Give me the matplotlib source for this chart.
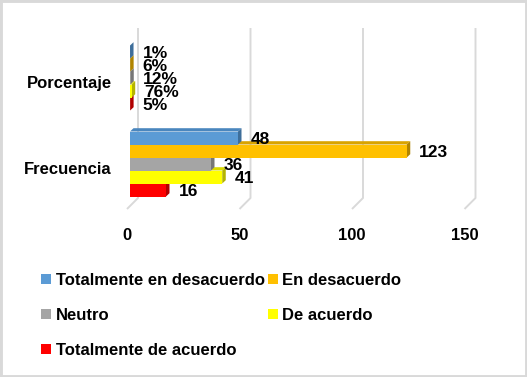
import matplotlib
matplotlib.use("Agg")
import matplotlib.pyplot as plt
from matplotlib.patches import Polygon, Rectangle
from matplotlib.transforms import ScaledTranslation
import numpy as np

categories = ["Frecuencia", "Porcentaje"]
series = ["Totalmente en desacuerdo", "En desacuerdo", "Neutro", "De acuerdo", "Totalmente de acuerdo"]
frecuencia = [48, 123, 36, 41, 16]
porcentaje = [0.01, 0.06, 0.12, 0.76, 0.05]
xticks = [0, 50, 100, 150]

face_colors = ["#5B9BD5", "#FFC000", "#A5A5A5", "#FFFF00", "#FF0000"]
top_colors = ["#4A86BE", "#D9A300", "#8C8C8C", "#D9D900", "#D90000"]
side_colors = ["#3E6E9A", "#B08400", "#767676", "#B3B300", "#B00000"]

FONT = "Liberation Sans"
FS = 12
W, H = 527, 377
fig = plt.figure(figsize=(W / 100, H / 100), dpi=100)
fig.patch.set_facecolor("white")

# axes in pixel coordinates
L, R, T, B = 120, 500, 20, 215
ax = fig.add_axes([L / W, 1 - B / H, (R - L) / W, (B - T) / H])
px_per_x = 2.25
px_per_y = 86.0
ax.set_xlim((L - 130) / px_per_x, (R - 130) / px_per_x)
ax.set_ylim((164 - B) / px_per_y, (164 - T) / px_per_y)
for s in ax.spines.values():
    s.set_visible(False)

# 3D-like gridlines (back wall + floor slant)
back_off = 8 / px_per_x
front_off = -3 / px_per_x
y_top = (164 - 28) / px_per_y
y_back = (164 - 198) / px_per_y
y_front = (164 - 209) / px_per_y
for v in xticks:
    ax.plot([v + back_off, v + back_off, v + front_off],
            [y_top, y_back, y_front], color="#D9D9D9", lw=1.4,
            solid_capstyle="butt", zorder=1)

bh = 65 / 86 / 5
dx = 3.5 / px_per_x
dy = 3.3 / px_per_y

data = {"Frecuencia": frecuencia, "Porcentaje": porcentaje}
for ci, cat in enumerate(categories):
    vals = data[cat]
    for i in reversed(range(len(series))):
        v = vals[i]
        yc = ci + (2 - i) * bh
        yb, yt = yc - bh / 2, yc + bh / 2
        ax.add_patch(Polygon([(0, yt), (v, yt), (v + dx, yt + dy), (dx, yt + dy)],
                             closed=True, fc=top_colors[i], ec="none", zorder=2))
        ax.add_patch(Polygon([(v, yb), (v + dx, yb + dy), (v + dx, yt + dy), (v, yt)],
                             closed=True, fc=side_colors[i], ec="none", zorder=2))
        ax.add_patch(Rectangle((0, yb), v, bh, fc=face_colors[i], ec="none", zorder=3))
        label = f"{v:.0%}" if cat == "Porcentaje" else f"{v:d}"
        ax.text(v + 5.5, yc - 0.012, label, ha="left", va="center",
                fontsize=12.5, fontweight="bold", family=FONT, zorder=5)

ax.set_xticks([v + front_off for v in xticks])
ax.set_xticklabels([str(v) for v in xticks], fontsize=FS, fontweight="bold", family=FONT)
ax.set_yticks(range(len(categories)))
ax.set_yticklabels(categories, fontsize=FS, fontweight="bold", family=FONT)
ax.tick_params(axis="both", length=0)
ax.tick_params(axis="x", pad=9)
ax.tick_params(axis="y", pad=6)
off = ScaledTranslation(0, -4 / 100, fig.dpi_scale_trans)
for lbl in ax.get_yticklabels():
    lbl.set_transform(lbl.get_transform() + off)

# legend (row-major order like the reference)
handles = [Rectangle((0, 0), 1, 1, fc=c, ec="none") for c in face_colors]
order = [0, 2, 4, 1, 3]
leg = fig.legend([handles[k] for k in order], [series[k] for k in order],
                 ncol=2, loc="upper left", bbox_to_anchor=(41 / W, 1 - 273 / H),
                 frameon=False, prop={"family": FONT, "weight": "bold", "size": FS},
                 handlelength=0.6, handleheight=0.6, handletextpad=0.3,
                 labelspacing=1.2, columnspacing=0.15, borderpad=0, borderaxespad=0)

# outer border
fig.add_artist(Rectangle((0, 0), 1, 1, transform=fig.transFigure, fill=False,
                         ec="#D9D9D9", lw=3.5, zorder=10))

fig.savefig("out.png", dpi=100)
